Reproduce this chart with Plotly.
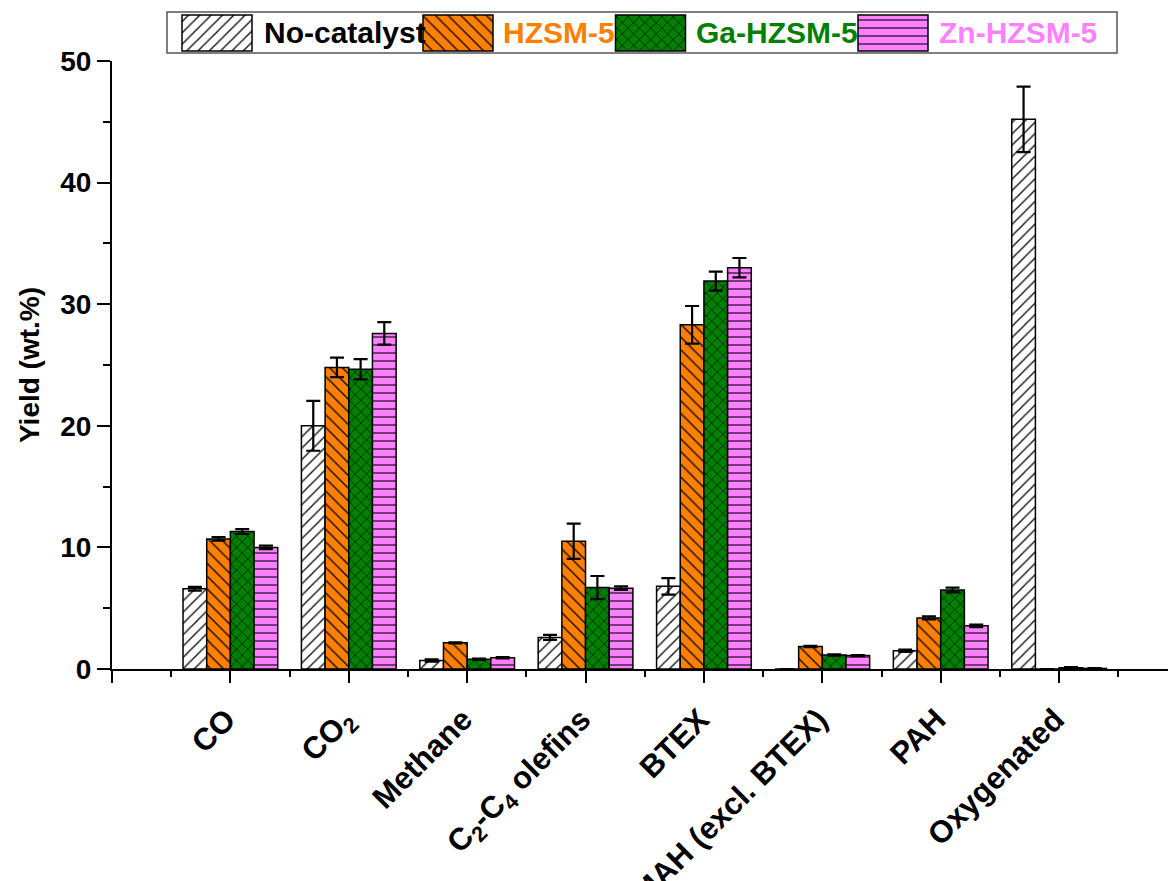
import plotly.graph_objects as go

# ---- data -------------------------------------------------------------
categories = ["CO", "CO<sub>2</sub>", "Methane", "C<sub>2</sub>-C<sub>4</sub> olefins",
              "BTEX", "MAH (excl. BTEX)", "PAH", "Oxygenated"]

no_catalyst = [6.6, 20.0, 0.7, 2.6, 6.8, 0.0, 1.5, 45.2]
no_catalyst_err = [0.15, 2.05, 0.1, 0.2, 0.68, 0.0, 0.1, 2.7]

hzsm5 = [10.7, 24.8, 2.15, 10.5, 28.3, 1.85, 4.2, 0.0]
hzsm5_err = [0.15, 0.8, 0.05, 1.45, 1.55, 0.05, 0.12, 0.0]

ga_hzsm5 = [11.3, 24.65, 0.8, 6.7, 31.9, 1.15, 6.5, 0.1]
ga_hzsm5_err = [0.2, 0.83, 0.05, 0.95, 0.78, 0.05, 0.2, 0.05]

zn_hzsm5 = [10.0, 27.6, 0.93, 6.65, 33.0, 1.1, 3.55, 0.05]
zn_hzsm5_err = [0.15, 0.93, 0.05, 0.15, 0.8, 0.05, 0.1, 0.02]

series_names = ["No-catalyst", "HZSM-5", "Ga-HZSM-5", "Zn-HZSM-5"]

# ---- styles -----------------------------------------------------------
W, H = 1168, 881
FONT = "Liberation Sans, Arial, sans-serif"
styles = [
    dict(fill="#FFFFFF", shape="/", fg="#000000", fgop=0.9, size=8, sol=0.18, text="#000000"),
    dict(fill="#FF8000", shape="\\", fg="#000000", fgop=0.9, size=9, sol=0.16, text="#FF8000"),
    dict(fill="#008000", shape="x", fg="#000000", fgop=0.9, size=8, sol=0.16, text="#008000"),
    dict(fill="#FF80FF", shape="-", fg="#000000", fgop=0.55, size=8, sol=0.25, text="#FF80FF"),
]
values = [no_catalyst, hzsm5, ga_hzsm5, zn_hzsm5]
errors = [no_catalyst_err, hzsm5_err, ga_hzsm5_err, zn_hzsm5_err]

x_pos = list(range(len(categories)))

fig = go.Figure()

for name, vals, errs, st in zip(series_names, values, errors, styles):
    fig.add_trace(go.Bar(
        x=x_pos, y=vals, name=name, showlegend=False,
        marker=dict(
            color=st["fill"],
            line=dict(color="#000000", width=1.5),
            pattern=dict(shape=st["shape"], fgcolor=st["fg"], fgopacity=st["fgop"],
                         size=st["size"], solidity=st["sol"]),
        ),
        error_y=dict(type="data", array=errs, visible=True, color="#000000",
                     thickness=2.2, width=7),
    ))

# ---- legend drawn on a helper axis spanning the whole figure -----------
legend_swatch_centers = [217, 458, 650.5, 893]
legend_text_left = [262, 501, 694, 937]
swatch_w, swatch_top, swatch_h = 70, 15, 36
for name, st, cx in zip(series_names, styles, legend_swatch_centers):
    fig.add_trace(go.Bar(
        x=[cx], y=[swatch_h], base=[swatch_top], width=[swatch_w],
        xaxis="x2", yaxis="y2", showlegend=False, hoverinfo="skip",
        marker=dict(
            color=st["fill"],
            line=dict(color="#000000", width=1.5),
            pattern=dict(shape=st["shape"], fgcolor=st["fg"], fgopacity=st["fgop"],
                         size=st["size"], solidity=st["sol"]),
        ),
    ))

annotations = []
for name, st, xl in zip(series_names, styles, legend_text_left):
    annotations.append(dict(
        x=xl, y=32, xref="x2", yref="y2", xanchor="left", yanchor="middle",
        text=name, showarrow=False,
        font=dict(family=FONT, size=30, color=st["text"], weight="bold"),
    ))

shapes = [dict(type="rect", xref="x2", yref="y2", x0=167, x1=1117, y0=12, y1=53,
               line=dict(color="#555555", width=1.5), fillcolor="rgba(0,0,0,0)", layer="below")]

x_domain = [112 / W, 1.0]
y_domain = [(H - 669) / H, (H - 61) / H]

fig.update_layout(
    width=W, height=H,
    margin=dict(l=0, r=0, t=0, b=0),
    paper_bgcolor="#FFFFFF",
    plot_bgcolor="rgba(0,0,0,0)",
    barmode="group", bargap=0.2, bargroupgap=0.0,
    font=dict(family=FONT, color="#000000"),
    annotations=annotations,
    shapes=shapes,
    xaxis=dict(
        domain=x_domain, anchor="y",
        range=[-1.0, 7.92],
        tickmode="array",
        tickvals=[-1] + x_pos,
        ticktext=[""] + categories,
        tickangle=-45,
        ticks="outside", ticklen=12, tickwidth=2, tickcolor="#000000",
        ticklabelstandoff=6, ticklabelshift=-4,
        minor=dict(tickmode="array", tickvals=[i - 0.5 for i in range(len(categories) + 1)],
                   ticks="outside", ticklen=6, tickwidth=2, tickcolor="#000000"),
        showline=True, linecolor="#000000", linewidth=2,
        showgrid=False, zeroline=False, automargin=False,
        tickfont=dict(family=FONT, size=31, color="#000000", weight="bold"),
    ),
    yaxis=dict(
        domain=y_domain, anchor="x",
        range=[0, 50],
        tickmode="linear", tick0=0, dtick=10,
        ticks="outside", ticklen=13, tickwidth=2, tickcolor="#000000",
        minor=dict(tickmode="linear", tick0=5, dtick=10, ticks="outside",
                   ticklen=7, tickwidth=2, tickcolor="#000000"),
        showline=True, linecolor="#000000", linewidth=2,
        showgrid=False, zeroline=False, automargin=False,
        tickfont=dict(family=FONT, size=28, color="#000000", weight="bold"),
        title=dict(text="Yield (wt.%)", standoff=12,
                   font=dict(family=FONT, size=28, color="#000000", weight="bold")),
    ),
    xaxis2=dict(domain=[0, 1], anchor="y2", range=[0, W], visible=False, fixedrange=True),
    yaxis2=dict(domain=[0, 1], anchor="x2", range=[H, 0], visible=False, fixedrange=True),
)

fig.write_html("out.html")
